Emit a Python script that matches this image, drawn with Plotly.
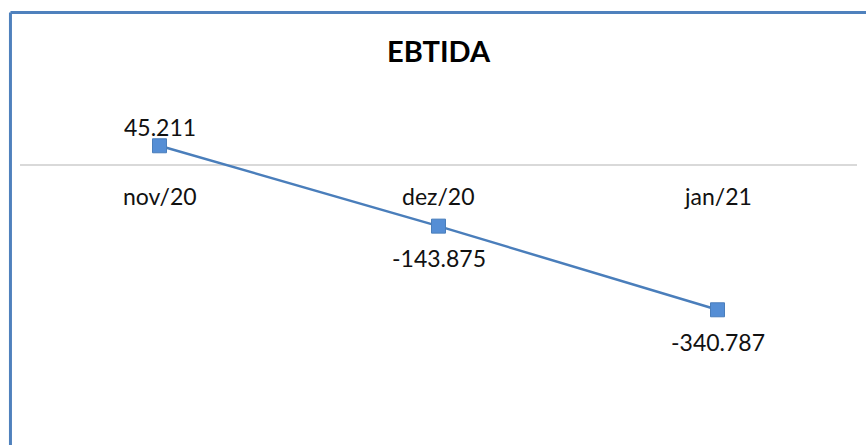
import plotly.graph_objects as go

categories = ["nov/20", "dez/20", "jan/21"]
values = [45.211, -143.875, -340.787]
value_labels = ["45.211", "-143.875", "-340.787"]
title_text = "EBTIDA"

FONT = "Lato, 'Open Sans', sans-serif"
BLUE = "#4A7EBB"
FILL = "#558ED5"

fig = go.Figure()
fig.add_trace(go.Scatter(
    x=categories, y=values, mode="lines+markers",
    line=dict(color=BLUE, width=2.5),
    marker=dict(symbol="square", size=14, color=FILL, line=dict(color=BLUE, width=1)),
    hoverinfo="skip", showlegend=False,
))

annotations = []
for c, v, t in zip(categories, values, value_labels):
    annotations.append(dict(x=c, y=v, xref="x", yref="y", text=t, showarrow=False,
                            yshift=19 if v >= 0 else -32,
                            font=dict(family=FONT, size=23, color="#111111")))
    annotations.append(dict(x=c, y=0, xref="x", yref="y", text=c, showarrow=False,
                            yshift=-31, font=dict(family=FONT, size=23, color="#111111")))

annotations.append(dict(x=0.5, y=1.0, xref="paper", yref="paper", yanchor="bottom",
                        text="<b>" + title_text + "</b>", showarrow=False, yshift=20,
                        font=dict(family=FONT, size=29, color="#000000")))

shapes = [
    dict(type="line", xref="paper", yref="paper", x0=-0.0114, x1=-0.0114, y0=1.2183, y1=-0.1,
         line=dict(color="#4F81BD", width=3)),
    dict(type="line", xref="paper", yref="paper", x0=-0.0114, x1=1.2, y0=1.2183, y1=1.2183,
         line=dict(color="#4F81BD", width=3)),
]

fig.update_layout(
    width=866, height=445,
    margin=dict(l=20, r=9, t=90, b=0),
    paper_bgcolor="white", plot_bgcolor="white",
    xaxis=dict(type="category", range=[-0.5, 2.5], showgrid=False, showticklabels=False,
               zeroline=False, showline=False, ticks=""),
    yaxis=dict(range=[-659, 176.5], showgrid=False, showticklabels=False,
               zeroline=True, zerolinecolor="#D9D9D9", zerolinewidth=2, showline=False, ticks=""),
    annotations=annotations, shapes=shapes,
)

fig.write_html("out.html", config={"displayModeBar": False},
               post_script="document.body.style.margin='0px';document.body.style.overflow='hidden';")
